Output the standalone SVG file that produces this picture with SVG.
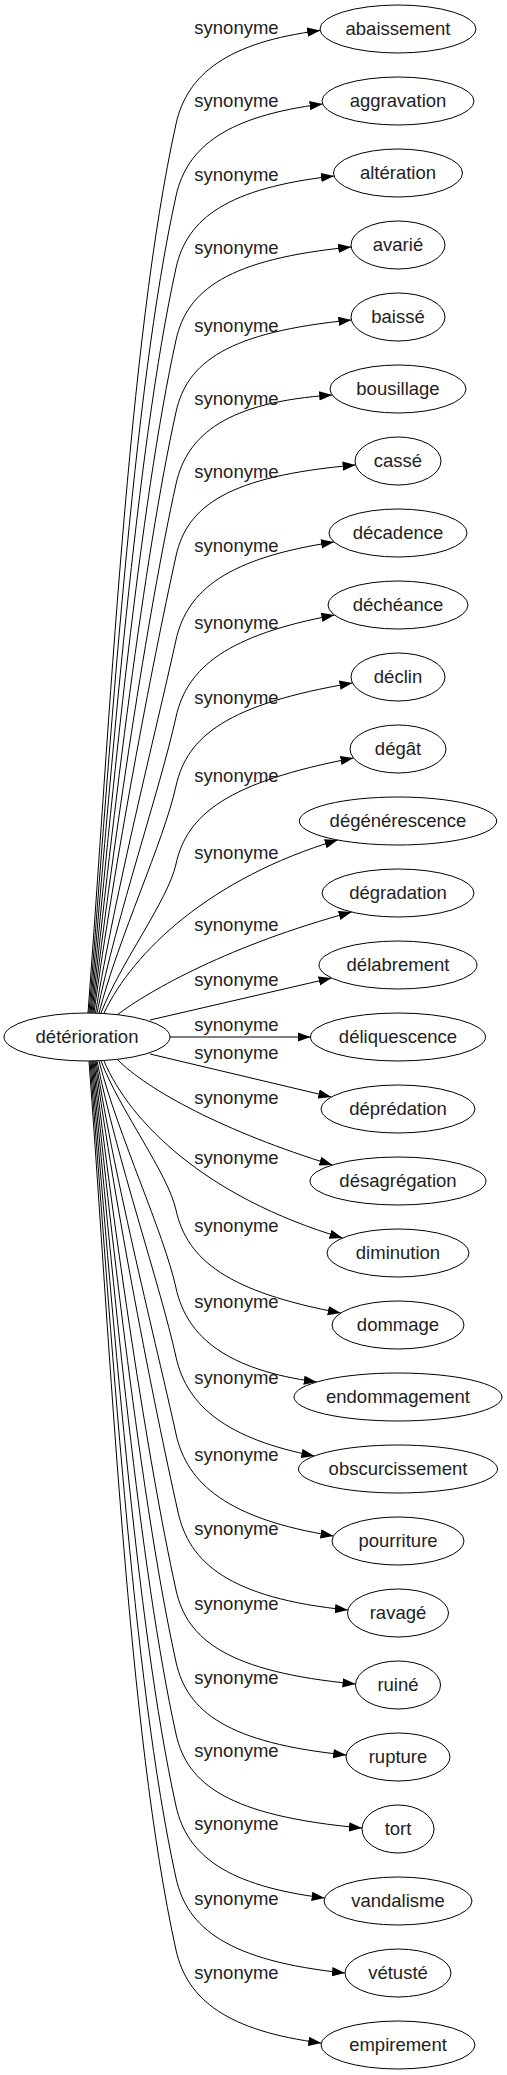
<svg xmlns="http://www.w3.org/2000/svg" width="507" height="2075" viewBox="0 0 507 2075">
<defs>
<style>
.node ellipse{fill:#fff;stroke:#000;stroke-width:1}
.node text{font-family:"Liberation Sans",Arial,sans-serif;font-size:18.5px;fill:#222;text-anchor:middle}
.edge path{fill:none;stroke:#000;stroke-width:1;marker-end:url(#arrow)}
.edge text{font-family:"Liberation Sans",Arial,sans-serif;font-size:18.5px;fill:#222;text-anchor:middle}
</style>
<marker id="arrow" markerWidth="14" markerHeight="10" refX="13" refY="4.65" orient="auto" markerUnits="userSpaceOnUse"><path d="M0,0 L13,4.65 L0,9.3 z" fill="#000"/></marker>
</defs>
<rect width="507" height="2075" fill="#fff"/>
<g id="connectors">
<g class="edge" id="e1"><path d="M88,1013 C110,720 128,342 176,124 C187,74 228,42 320.2,30.5"/><text x="236.5" y="34">synonyme</text></g>
<g class="edge" id="e2"><path d="M89,1013 C110.8,743.4 132,396 176,196 C187,146 228,116 322.6,104"/><text x="236.5" y="107">synonyme</text></g>
<g class="edge" id="e3"><path d="M90,1013 C111.5,767 136,450.5 176,268 C187,218 228,188 334,176"/><text x="236.5" y="181">synonyme</text></g>
<g class="edge" id="e4"><path d="M91,1013 C112.3,791 139.7,505 176,340 C187,290 228,259 351.2,247"/><text x="236.5" y="254">synonyme</text></g>
<g class="edge" id="e5"><path d="M92,1013 C113,815 143.6,559 176,412 C187,362 228,332 351.4,320"/><text x="236.5" y="332">synonyme</text></g>
<g class="edge" id="e6"><path d="M93,1013 C113.8,838.4 147.5,613.6 176,484 C187,434 228,402 332.2,395"/><text x="236.5" y="405">synonyme</text></g>
<g class="edge" id="e7"><path d="M94,1013 C114.5,862.2 151.4,668 176,556 C187,506 228,476 355.6,465"/><text x="236.5" y="478">synonyme</text></g>
<g class="edge" id="e8"><path d="M95.5,1013 C115.6,890 156,731 176,640 C187,590 228,558 334,542"/><text x="236.5" y="552">synonyme</text></g>
<g class="edge" id="e9"><path d="M97,1013 C116.8,915.3 160,789.5 176,717 C187,667 228,635 334.4,615"/><text x="236.5" y="629">synonyme</text></g>
<g class="edge" id="e10"><path d="M99,1013 C118.3,938 163.8,841.6 176,786 C187,736 228,704 352.5,683"/><text x="236.5" y="704">synonyme</text></g>
<g class="edge" id="e11"><path d="M101,1013 C119.8,963.8 168,900.5 176,864 C187,814 228,782 353.5,758"/><text x="236.5" y="782">synonyme</text></g>
<g class="edge" id="e12"><path d="M104,1013 C133,952 210,878 337.7,840"/><text x="236.5" y="859">synonyme</text></g>
<g class="edge" id="e13"><path d="M117,1015 C150,990 230,945 351.6,912"/><text x="236.5" y="931">synonyme</text></g>
<g class="edge" id="e14"><path d="M150,1020 L331.6,978"/><text x="236.5" y="986">synonyme</text></g>
<g class="edge" id="e15"><path d="M170,1037 L310.5,1037"/><text x="236.5" y="1031">synonyme</text></g>
<g class="edge" id="e16"><path d="M150,1054 L331.3,1097"/><text x="236.5" y="1059">synonyme</text></g>
<g class="edge" id="e17"><path d="M117,1059 C147,1090 225,1132 332.4,1165"/><text x="236.5" y="1104">synonyme</text></g>
<g class="edge" id="e18"><path d="M104,1061 C130,1122 205,1197 342.6,1238"/><text x="236.5" y="1164">synonyme</text></g>
<g class="edge" id="e19"><path d="M101,1061 C119.8,1110 168,1173.5 176,1210 C187,1260 228,1292 340.8,1313"/><text x="236.5" y="1232">synonyme</text></g>
<g class="edge" id="e20"><path d="M99,1061 C118.3,1136 163.8,1232.4 176,1288 C187,1338 228,1370 316.8,1382"/><text x="236.5" y="1308">synonyme</text></g>
<g class="edge" id="e21"><path d="M97,1061 C116.8,1158.7 160,1284.5 176,1357 C187,1407 228,1439 314.4,1456"/><text x="236.5" y="1384">synonyme</text></g>
<g class="edge" id="e22"><path d="M96,1061 C115.6,1184 156,1343 176,1434 C187,1484 228,1519 333.5,1536"/><text x="236.5" y="1461">synonyme</text></g>
<g class="edge" id="e23"><path d="M95,1061 C115.3,1208 153,1400 178,1512 C189,1562 228,1598 347.9,1610"/><text x="236.5" y="1535">synonyme</text></g>
<g class="edge" id="e24"><path d="M94,1061 C114.5,1235.6 147.5,1460.4 176,1590 C187,1640 228,1672 355.5,1684"/><text x="236.5" y="1610">synonyme</text></g>
<g class="edge" id="e25"><path d="M93,1061 C113.8,1259.3 143.6,1514.8 176,1662 C187,1712 228,1743 346.2,1755"/><text x="236.5" y="1684">synonyme</text></g>
<g class="edge" id="e26"><path d="M92,1061 C113,1283 139.7,1569 176,1734 C187,1784 228,1816 362,1828"/><text x="236.5" y="1757">synonyme</text></g>
<g class="edge" id="e27"><path d="M91,1061 C112.3,1306.9 135.8,1623.5 176,1806 C187,1856 228,1886 324.6,1898"/><text x="236.5" y="1830">synonyme</text></g>
<g class="edge" id="e28"><path d="M90,1061 C111.5,1330.6 132,1677.8 176,1878 C187,1928 228,1961 345,1973"/><text x="236.5" y="1905">synonyme</text></g>
<g class="edge" id="e29"><path d="M89,1061 C110.8,1354.4 128,1732.2 176,1950 C187,2000 228,2031 321.3,2043"/><text x="236.5" y="1979">synonyme</text></g>
</g>
<g class="node" id="n-deterioration"><ellipse cx="87" cy="1037" rx="83" ry="24"/><text x="87" y="1043">détérioration</text></g>
<g class="node" id="n1"><ellipse cx="398" cy="29" rx="78" ry="24"/><text x="398" y="35">abaissement</text></g>
<g class="node" id="n2"><ellipse cx="398" cy="101" rx="76" ry="24"/><text x="398" y="107">aggravation</text></g>
<g class="node" id="n3"><ellipse cx="398" cy="173" rx="64.5" ry="24"/><text x="398" y="179">altération</text></g>
<g class="node" id="n4"><ellipse cx="398" cy="245" rx="47" ry="24"/><text x="398" y="251">avarié</text></g>
<g class="node" id="n5"><ellipse cx="398" cy="317" rx="47" ry="24"/><text x="398" y="323">baissé</text></g>
<g class="node" id="n6"><ellipse cx="398" cy="389" rx="68" ry="24"/><text x="398" y="395">bousillage</text></g>
<g class="node" id="n7"><ellipse cx="398" cy="461" rx="43" ry="24"/><text x="398" y="467">cassé</text></g>
<g class="node" id="n8"><ellipse cx="398" cy="533" rx="69" ry="24"/><text x="398" y="539">décadence</text></g>
<g class="node" id="n9"><ellipse cx="398" cy="605" rx="70" ry="24"/><text x="398" y="611">déchéance</text></g>
<g class="node" id="n10"><ellipse cx="398" cy="677" rx="47" ry="24"/><text x="398" y="683">déclin</text></g>
<g class="node" id="n11"><ellipse cx="398" cy="749" rx="48" ry="24"/><text x="398" y="755">dégât</text></g>
<g class="node" id="n12"><ellipse cx="398" cy="821" rx="98.7" ry="24"/><text x="398" y="827">dégénérescence</text></g>
<g class="node" id="n13"><ellipse cx="398" cy="893" rx="76" ry="24"/><text x="398" y="899">dégradation</text></g>
<g class="node" id="n14"><ellipse cx="398" cy="965" rx="79" ry="24"/><text x="398" y="971">délabrement</text></g>
<g class="node" id="n15"><ellipse cx="398" cy="1037" rx="87.5" ry="24"/><text x="398" y="1043">déliquescence</text></g>
<g class="node" id="n16"><ellipse cx="398" cy="1109" rx="77" ry="24"/><text x="398" y="1115">déprédation</text></g>
<g class="node" id="n17"><ellipse cx="398" cy="1181" rx="88" ry="24"/><text x="398" y="1187">désagrégation</text></g>
<g class="node" id="n18"><ellipse cx="398" cy="1253" rx="71" ry="24"/><text x="398" y="1259">diminution</text></g>
<g class="node" id="n19"><ellipse cx="398" cy="1325" rx="66" ry="24"/><text x="398" y="1331">dommage</text></g>
<g class="node" id="n20"><ellipse cx="398" cy="1397" rx="104" ry="24"/><text x="398" y="1403">endommagement</text></g>
<g class="node" id="n21"><ellipse cx="398" cy="1469" rx="99.5" ry="24"/><text x="398" y="1475">obscurcissement</text></g>
<g class="node" id="n22"><ellipse cx="398" cy="1541" rx="66" ry="24"/><text x="398" y="1547">pourriture</text></g>
<g class="node" id="n23"><ellipse cx="398" cy="1613" rx="50.5" ry="24"/><text x="398" y="1619">ravagé</text></g>
<g class="node" id="n24"><ellipse cx="398" cy="1685" rx="42.5" ry="24"/><text x="398" y="1691">ruiné</text></g>
<g class="node" id="n25"><ellipse cx="398" cy="1757" rx="52" ry="24"/><text x="398" y="1763">rupture</text></g>
<g class="node" id="n26"><ellipse cx="398" cy="1829" rx="36" ry="24"/><text x="398" y="1835">tort</text></g>
<g class="node" id="n27"><ellipse cx="398" cy="1901" rx="74" ry="24"/><text x="398" y="1907">vandalisme</text></g>
<g class="node" id="n28"><ellipse cx="398" cy="1973" rx="53" ry="24"/><text x="398" y="1979">vétusté</text></g>
<g class="node" id="n29"><ellipse cx="398" cy="2045" rx="77" ry="24"/><text x="398" y="2051">empirement</text></g>
</svg>
